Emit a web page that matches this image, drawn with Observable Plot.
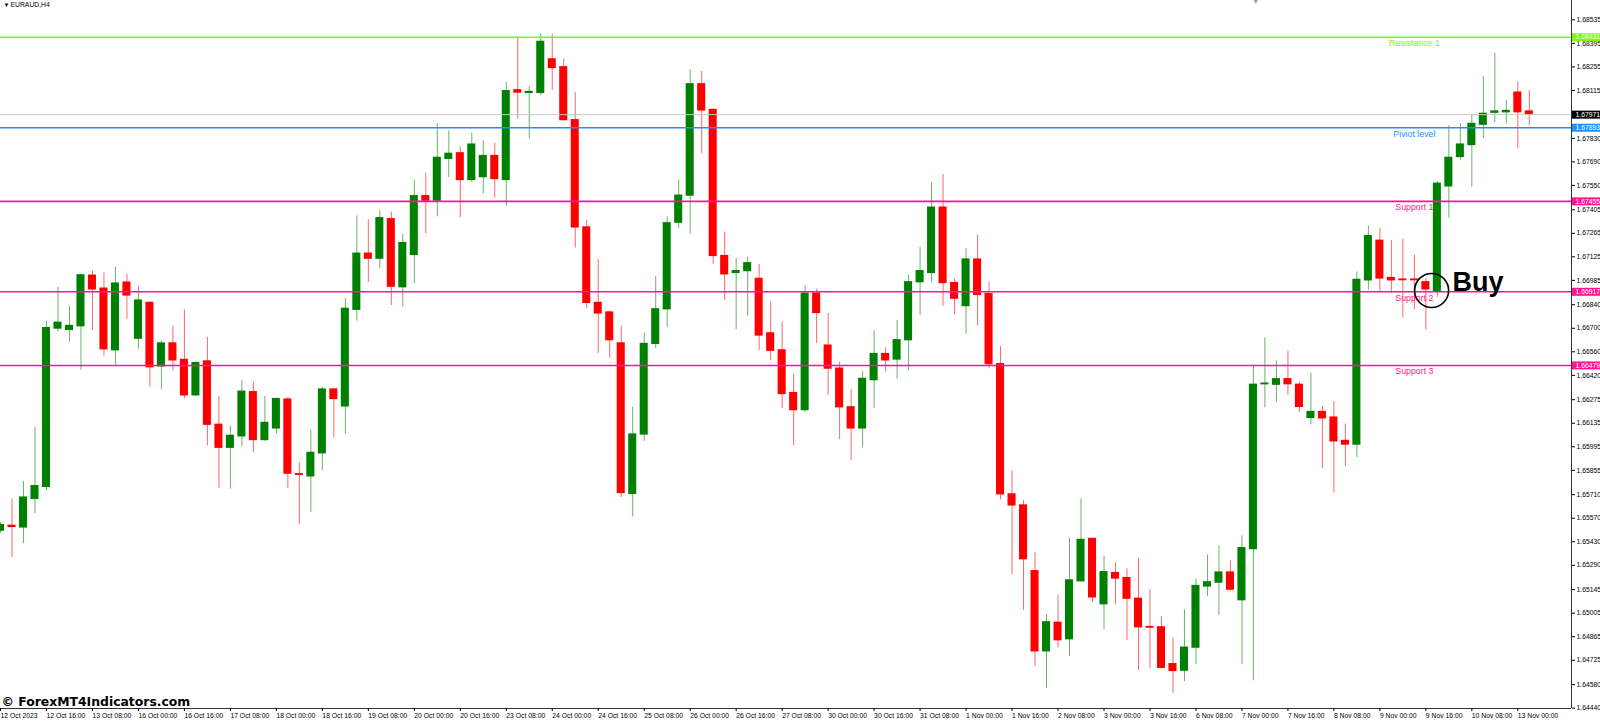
<!DOCTYPE html>
<html>
<head>
<meta charset="utf-8">
<script src="https://cdn.jsdelivr.net/npm/d3@7"></script>
<script src="https://cdn.jsdelivr.net/npm/@observablehq/plot@0.6"></script>
<style>
html, body { margin: 0; padding: 0; background: #fff; }
#chart svg { display: block; }
</style>
</head>
<body>
<div id="chart"></div>
<script>
// ---- DATA (EURAUD H4, one value per bar) ----
const opens = [1.65496,1.65525,1.65515,1.65685,1.65756,1.66698,1.66690,1.66712,1.67013,1.66936,
1.66569,1.66972,1.66638,1.66851,1.66473,1.66610,1.66512,1.66301,1.66503,1.66126,
1.65989,1.66057,1.66320,1.66035,1.66104,1.66276,1.65832,1.65819,1.65956,1.66336,
1.66235,1.66810,1.67144,1.67114,1.67349,1.66944,1.67136,1.67486,1.67459,1.67708,
1.67741,1.67582,1.67599,1.67725,1.67582,1.68116,1.68100,1.68100,1.68300,1.68253,
1.67938,1.67300,1.66851,1.66794,1.66610,1.65715,1.66068,1.66607,1.66813,1.67328,
1.67489,1.68152,1.67999,1.67130,1.67029,1.67040,1.66994,1.66670,1.66569,1.66315,
1.66213,1.66906,1.66597,1.66460,1.66230,1.66104,1.66391,1.66547,1.66514,1.66629,
1.66974,1.67029,1.67418,1.66969,1.66832,1.67109,1.66903,1.66487,1.65712,1.65646,
1.65255,1.64778,1.64948,1.64850,1.65195,1.65447,1.65058,1.65244,1.65214,1.65091,
1.64923,1.64921,1.64702,1.64663,1.64800,1.65164,1.65187,1.65247,1.65082,1.65386,
1.66367,1.66364,1.66397,1.66364,1.66167,1.66202,1.66169,1.66030,1.66008,1.66985,
1.67221,1.66999,1.66990,1.66990,1.66974,1.66920,1.67544,1.67719,1.67790,1.67911,
1.67982,1.67985,1.68102,1.67990];
const highs = [1.65545,1.65685,1.65789,1.66109,1.66742,1.66944,1.66829,1.67023,1.67040,1.67029,
1.67062,1.67021,1.66947,1.66855,1.66624,1.66712,1.66810,1.66501,1.66646,1.66295,
1.66120,1.66391,1.66380,1.66295,1.66285,1.66290,1.65898,1.66095,1.66350,1.66340,
1.66876,1.67369,1.67344,1.67399,1.67391,1.67259,1.67582,1.67623,1.67916,1.67875,
1.67779,1.67861,1.67815,1.67801,1.68163,1.68431,1.68138,1.68450,1.68450,1.68302,
1.68102,1.67344,1.67109,1.66802,1.66712,1.66230,1.66670,1.67007,1.67363,1.67582,
1.68239,1.68228,1.68005,1.67273,1.67117,1.67122,1.67078,1.66857,1.66739,1.66427,
1.66952,1.66933,1.66788,1.66498,1.66336,1.66443,1.66684,1.66583,1.66747,1.67015,
1.67182,1.67566,1.67615,1.66994,1.67172,1.67254,1.66974,1.66591,1.65852,1.65674,
1.65364,1.64995,1.65113,1.65452,1.65685,1.65450,1.65345,1.65304,1.65269,1.65329,
1.65145,1.64981,1.64858,1.65025,1.65206,1.65351,1.65406,1.65315,1.65466,1.66473,
1.66643,1.66506,1.66564,1.66378,1.66432,1.66235,1.66263,1.66131,1.67035,1.67308,
1.67295,1.67221,1.67232,1.67136,1.66994,1.67574,1.67905,1.67916,1.67966,1.68198,
1.68335,1.68056,1.68168,1.68113];
const lows = [1.65480,1.65337,1.65419,1.65597,1.65734,1.66679,1.66618,1.66451,1.66687,1.66534,
1.66482,1.66753,1.66575,1.66350,1.66336,1.66446,1.66279,1.66295,1.66000,1.65748,
1.65742,1.65994,1.65961,1.66027,1.66071,1.65748,1.65534,1.65605,1.65852,1.66049,
1.66071,1.66742,1.66972,1.67057,1.66835,1.66827,1.66966,1.67262,1.67363,1.67596,
1.67358,1.67569,1.67500,1.67473,1.67426,1.67946,1.67826,1.68083,1.68116,1.67933,
1.67177,1.66816,1.66550,1.66520,1.65693,1.65578,1.66027,1.66580,1.66706,1.67295,
1.67259,1.67738,1.67081,1.66865,1.66692,1.66772,1.66569,1.66509,1.66224,1.66000,
1.66200,1.66610,1.66301,1.66038,1.65912,1.65989,1.66224,1.66440,1.66397,1.66446,
1.66775,1.66974,1.66832,1.66780,1.66665,1.66714,1.66460,1.65679,1.65233,1.65022,
1.64688,1.64557,1.64798,1.64748,1.65190,1.65069,1.64907,1.65055,1.64844,1.64666,
1.64674,1.64674,1.64529,1.64598,1.64699,1.65104,1.64989,1.65137,1.64699,1.64603,
1.66227,1.66260,1.66301,1.66200,1.66126,1.65863,1.65720,1.65876,1.65931,1.66925,
1.66920,1.66906,1.66761,1.66810,1.66690,1.66884,1.67355,1.67700,1.67538,1.67829,
1.67924,1.67916,1.67766,1.67905];
const closes = [1.65529,1.65518,1.65693,1.65761,1.66701,1.66733,1.66714,1.67015,1.66931,1.66575,
1.66966,1.66895,1.66865,1.66468,1.66610,1.66509,1.66301,1.66493,1.66126,1.65989,
1.66060,1.66323,1.66035,1.66137,1.66279,1.65835,1.65828,1.65959,1.66336,1.66279,
1.66816,1.67144,1.67114,1.67355,1.66947,1.67207,1.67486,1.67459,1.67714,1.67738,
1.67582,1.67793,1.67725,1.67588,1.68111,1.68102,1.68106,1.68404,1.68248,1.67938,
1.67300,1.66851,1.66788,1.66629,1.65720,1.66068,1.66607,1.66813,1.67325,1.67489,
1.68152,1.67996,1.67130,1.67021,1.67040,1.67087,1.66657,1.66566,1.66309,1.66213,
1.66906,1.66791,1.66460,1.66230,1.66104,1.66399,1.66547,1.66509,1.66629,1.66974,
1.67040,1.67418,1.66969,1.66876,1.67109,1.66898,1.66487,1.65712,1.65646,1.65326,
1.64778,1.64951,1.64844,1.65200,1.65441,1.65099,1.65249,1.65211,1.65091,1.64921,
1.64919,1.64680,1.64661,1.64800,1.65167,1.65189,1.65247,1.65145,1.65392,1.66364,
1.66371,1.66397,1.66367,1.66232,1.66202,1.66164,1.66027,1.66008,1.66988,1.67248,
1.66996,1.66985,1.66986,1.66986,1.66931,1.67560,1.67714,1.67793,1.67916,1.67976,
1.67990,1.67993,1.67985,1.67971];

// time-axis labels, one every 4 bars starting at bar 0
const timeLabels = ["12 Oct 2023","12 Oct 16:00","13 Oct 08:00","16 Oct 00:00","16 Oct 16:00",
"17 Oct 08:00","18 Oct 00:00","18 Oct 16:00","19 Oct 08:00","20 Oct 00:00","20 Oct 16:00",
"23 Oct 08:00","24 Oct 00:00","24 Oct 16:00","25 Oct 08:00","26 Oct 00:00","26 Oct 16:00",
"27 Oct 08:00","30 Oct 00:00","30 Oct 16:00","31 Oct 08:00","1 Nov 00:00","1 Nov 16:00",
"2 Nov 08:00","3 Nov 00:00","3 Nov 16:00","6 Nov 08:00","7 Nov 00:00","7 Nov 16:00",
"8 Nov 08:00","9 Nov 00:00","9 Nov 16:00","10 Nov 08:00","13 Nov 00:00"];
const barsPerLabel = 4;

// price-axis tick labels
const priceTicks = [1.68535,1.68395,1.68255,1.68115,1.67830,1.67690,1.67550,1.67405,1.67265,
1.67125,1.66985,1.66840,1.66700,1.66560,1.66420,1.66275,1.66135,1.65995,1.65855,1.65710,
1.65570,1.65430,1.65290,1.65145,1.65005,1.64865,1.64725,1.64580,1.64440];

// pivot levels
const levelNames  = ["Resistance 1","Piviot level","Support 1","Support 2","Support 3"];
const levelValues = [1.68431,1.67893,1.67455,1.66917,1.66479];
const levelColors = ["#7CFC00","#1E90FF","#FF1493","#FF1493","#FF1493"];
const levelLabelBar = 123;

const currentPrice = 1.67971;
const symbolLabel = "EURAUD,H4";
const watermark = "© ForexMT4Indicators.com";
const buySignal = [{bar: 124.5, price: 1.66925, text: "Buy"}];
const shiftMarkerBar = 109.2;

// visible window
const xDomain = [0, 136.67];
const yDomain = [1.64438, 1.68650];

// ---- BUILD ----
const UP = "#008000", DOWN = "#FF0000";
const candles = opens.map((o, i) => ({
  i, open: o, high: highs[i], low: lows[i], close: closes[i],
  col: closes[i] >= o ? UP : DOWN
}));
const levels = levelNames.map((n, k) => ({name: n, value: levelValues[k], color: levelColors[k]}));
const tags = [
  {value: levelValues[0], color: levelColors[0]},
  {value: currentPrice, color: "#000000"},
  ...levels.slice(1).map(l => ({value: l.value, color: l.color}))
];
const tickBars = timeLabels.map((_, k) => k * barsPerLabel);

const W = 1600, H = 721, mR = 29, mB = 13;
const fs = 6.8;

const chart = Plot.plot({
  width: W, height: H,
  marginLeft: 0, marginRight: mR, marginTop: 0, marginBottom: mB,
  x: {type: "linear", domain: xDomain},
  y: {type: "linear", domain: yDomain},
  color: {type: "identity"},
  style: {fontFamily: "'Liberation Sans', Arial, sans-serif", background: "#fff", color: "#000", overflow: "visible"},
  marks: [
    // candles
    Plot.ruleX(candles, {x: "i", y1: "low", y2: "high", stroke: "col", strokeOpacity: 0.6, strokeWidth: 1}),
    Plot.rect(candles, {x1: d => d.i - 0.35, x2: d => d.i + 0.35, y1: "open", y2: "close", fill: "col", insetTop: -0.6, insetBottom: -0.6}),
    // current price line
    Plot.ruleY([currentPrice], {stroke: "#C8C8C8", strokeWidth: 1}),
    // levels
    Plot.ruleY(levels, {y: "value", stroke: "color", strokeWidth: 1.6}),
    Plot.text(levels, {x: () => levelLabelBar, y: "value", text: "name", fill: "color", dy: 6, fontSize: 8.8}),
    // buy signal
    Plot.dot(buySignal, {x: "bar", y: "price", r: 17, stroke: "#000", strokeWidth: 1.6, fill: "none"}),
    Plot.text(buySignal, {x: "bar", y: "price", text: "text", dx: 21, dy: -8, textAnchor: "start", fontSize: 27, fontWeight: "bold", fill: "#000"}),
    // axes
    Plot.ruleY([yDomain[0]], {stroke: "#333", strokeWidth: 1}),
    Plot.ruleX([xDomain[1]], {stroke: "#333", strokeWidth: 1}),
    Plot.axisY(priceTicks, {anchor: "right", tickSize: 3, tickPadding: 2, tickFormat: d => d.toFixed(5), fontSize: fs, label: null}),
    Plot.axisX(tickBars, {anchor: "bottom", tickSize: 3, tickPadding: 1.5, tickFormat: d => timeLabels[d / barsPerLabel], textAnchor: "start", fontSize: fs, label: null}),
    // price tags on the axis
    Plot.ruleY(tags, {y: "value", stroke: "color", strokeWidth: 8, insetLeft: W - mR + 1, insetRight: -mR}),
    Plot.text(tags, {y: "value", text: d => d.value.toFixed(5), frameAnchor: "right", dx: 4, textAnchor: "start", fill: "#fff", fontSize: fs}),
    // captions
    Plot.text([symbolLabel], {frameAnchor: "top-left", dx: 10, dy: 2, lineAnchor: "top", textAnchor: "start", fontSize: fs, fill: "#000"}),
    Plot.text(["▼"], {frameAnchor: "top-left", dx: 3, dy: 2.5, lineAnchor: "top", textAnchor: "start", fontSize: 6, fill: "#000"}),
    Plot.text(["▼"], {x: () => shiftMarkerBar, frameAnchor: "top", dy: -1, lineAnchor: "top", fontSize: 7, fill: "#A0A0A0"}),
    Plot.text([watermark], {frameAnchor: "bottom-left", dx: 1, dy: -3, lineAnchor: "bottom", textAnchor: "start", fontFamily: "'DejaVu Sans', Verdana, sans-serif", fontWeight: "bold", fontSize: 12.4, fill: "#000"})
  ]
});
document.getElementById("chart").appendChild(chart);
</script>
</body>
</html>
